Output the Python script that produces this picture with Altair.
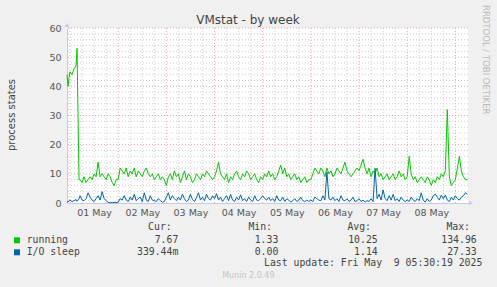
import altair as alt
import pandas as pd

# ---- data (hours relative to 01 May 00:00) ----
head_hours = [-1.5, -1, -0.5, 0, 1, 2, 3, 3.5, 4, 4.5]

running_head = [44, 40, 43, 45, 44, 46, 47, 53, 30, 8]
running_rest = (
    [8, 7, 9, 7, 8, 9, 8, 10, 9, 14, 9, 10, 9, 8, 10, 9, 7, 6, 8]
    + [8, 12, 11, 10, 12, 9, 11, 10, 12, 9, 11, 10, 9, 11, 12, 10, 9, 10, 8, 9, 10, 8, 9, 8]
    + [6, 9, 10, 8, 11, 9, 10, 7, 9, 11, 8, 10, 9, 7, 8, 10, 9, 8, 10, 9, 11, 10, 9, 8]
    + [9, 11, 14, 10, 9, 8, 10, 7, 9, 8, 10, 11, 9, 8, 10, 9, 11, 10, 8, 9, 10, 8, 7, 9]
    + [8, 10, 9, 11, 9, 10, 8, 9, 11, 13, 10, 12, 9, 10, 8, 9, 10, 8, 9, 7, 8, 9, 7, 8]
    + [8, 10, 12, 11, 10, 12, 11, 9, 12, 10, 11, 9, 10, 12, 11, 10, 12, 14, 11, 10, 9, 10, 11, 12]
    + [11, 13, 15, 12, 10, 12, 9, 11, 10, 12, 9, 10, 8, 9, 10, 8, 9, 10, 8, 9, 11, 9, 10, 8]
    + [9, 16, 10, 8, 9, 7, 8, 9, 8, 7, 9, 8, 6, 8, 7, 9, 8, 10, 9, 11, 32, 9, 6, 7]
    + [8, 12, 16, 11, 9, 8, 8]
)

iosleep_head = [0.5, 0.3, 0.8, 1.0, 0.5, 0.8, 1.2, 0.6, 1.0, 1.5]
iosleep_rest = (
    [2.5, 1.0, 0.8, 1.5, 3.5, 2.0, 1.0, 0.5, 1.5, 2.5, 1.0, 3.9, 1.5, 0.8, 0.2, 0.1, 0.1, 0.2, 0.1]
    + [0.3, 1.5, 1.0, 2.5, 1.0, 0.5, 2.0, 1.0, 3.0, 0.8, 1.5, 2.0, 0.5, 3.5, 1.0, 0.5, 2.5, 1.0, 0.8, 0.5, 1.5, 0.8, 0.3, 0.5]
    + [2.0, 3.5, 1.0, 2.5, 1.5, 0.8, 2.0, 1.0, 3.0, 1.5, 0.5, 1.0, 3.0, 1.2, 0.5, 1.8, 3.5, 1.0, 2.0, 0.8, 3.0, 1.5, 1.0, 2.5]
    + [1.5, 3.2, 1.0, 2.0, 0.5, 1.5, 2.5, 0.8, 3.0, 1.0, 0.5, 2.0, 1.0, 2.8, 0.8, 1.5, 0.5, 2.0, 1.0, 0.5, 2.5, 1.0, 0.8, 1.5]
    + [2.5, 1.5, 1.0, 2.0, 0.8, 1.5, 0.5, 2.5, 1.0, 0.8, 2.0, 0.5, 1.5, 1.0, 0.3, 0.8, 1.5, 0.5, 1.0, 2.0, 0.8, 0.5, 1.0, 0.5]
    + [1.0, 0.5, 2.0, 1.5, 1.0, 0.8, 2.5, 1.0, 10.7, 1.5, 1.0, 2.0, 0.8, 1.5, 0.5, 2.5, 1.0, 0.8, 1.5, 0.5, 1.0, 2.0, 0.5, 0.8]
    + [1.5, 0.5, 1.0, 0.3, 0.8, 0.5, 1.5, 0.5, 11.9, 1.5, 3.0, 1.0, 4.5, 1.5, 0.8, 2.5, 1.0, 3.0, 0.8, 1.5, 0.5, 2.0, 1.0, 0.5]
    + [1.0, 0.5, 2.0, 1.0, 0.5, 1.5, 0.8, 3.5, 1.0, 0.3, 1.5, 0.5, 1.0, 2.5, 3.0, 2.0, 1.0, 2.7, 1.5, 2.7, 1.0, 0.5, 2.0, 1.0]
    + [2.5, 1.5, 1.0, 2.0, 2.5, 3.5, 3.0]
)

day_labels = ["01 May", "02 May", "03 May", "04 May", "05 May", "06 May", "07 May", "08 May"]
label_hours = [12, 36, 60, 84, 108, 132, 156, 180]
major_x = [0, 24, 48, 72, 96, 120, 144, 168, 192]
minor_x = [h for h in range(6, 198, 6) if h % 24 != 0]
major_y = [10, 20, 30, 40, 50, 60]
minor_y = [v for v in range(2, 60, 2) if v % 10 != 0]

series_names = ["running", "I/O sleep"]
series_colors = ["#00CC00", "#0066B3"]
cur_vals = ["7.67", "339.44m"]
min_vals = ["1.33", "0.00"]
avg_vals = ["10.25", "1.14"]
max_vals = ["134.96", "27.33"]

# ---- build table ----
def hours_for(rest):
    return head_hours + [5 + i for i in range(len(rest))]

df = pd.concat([
    pd.DataFrame({"h": hours_for(running_rest), "v": running_head + running_rest, "s": "running"}),
    pd.DataFrame({"h": hours_for(iosleep_rest), "v": iosleep_head + iosleep_rest, "s": "I/O sleep"}),
])

W, H = 401, 175
XDOM = [-1.5, 198.3]
LAB = "'" + "','".join(day_labels) + "'"

x_axis = alt.Axis(values=label_hours, labelExpr=f"[{LAB}][floor(datum.value/24)]",
                  grid=False, ticks=False, domainColor="#C4C8F2", labelFont="DejaVu Sans",
                  labelFontSize=9.5, labelColor="#555555", labelPadding=4, labelBaseline="top")
y_axis = alt.Axis(values=[0, 10, 20, 30, 40, 50, 60], grid=False, ticks=False, domainColor="#C4C8F2",
                  labelFont="DejaVu Sans", labelFontSize=9.5, labelColor="#555555", labelPadding=6,
                  labelBaseline="middle")
xs = alt.Scale(domain=XDOM, nice=False, zero=False)
ys = alt.Scale(domain=[0, 60], nice=False)

def vrules(vals, color, dash):
    return alt.Chart(pd.DataFrame({"gx": vals})).mark_rule(color=color, strokeDash=dash, strokeWidth=1).encode(
        x=alt.X("gx:Q", scale=xs, axis=x_axis, title=None))

def hrules(vals, color, dash):
    return alt.Chart(pd.DataFrame({"gy": vals})).mark_rule(color=color, strokeDash=dash, strokeWidth=1).encode(
        y=alt.Y("gy:Q", scale=ys, axis=y_axis, title=None))

lines = alt.Chart(df).mark_line(strokeWidth=1, interpolate="linear").encode(
    x=alt.X("h:Q", scale=xs, axis=x_axis, title=None),
    y=alt.Y("v:Q", scale=ys, axis=y_axis, title=None),
    color=alt.Color("s:N", scale=alt.Scale(domain=series_names, range=series_colors), legend=None),
    order=alt.Order("h:Q"),
    detail="s:N",
)

def txt(s, x, y, align="left", font="DejaVu Sans Mono", size=9.8, color="#444444", angle=0, baseline="middle"):
    return alt.Chart(pd.DataFrame({"t": [s]})).mark_text(
        align=align, baseline=baseline, font=font, fontSize=size, color=color, angle=angle
    ).encode(text="t:N", x=alt.value(x), y=alt.value(y))

layers = [
    vrules(minor_x, "#D0D0D0", [1, 2]),
    hrules(minor_y, "#D0D0D0", [1, 2]),
    vrules(major_x, "#EBA8A8", [1, 2]),
    hrules(major_y, "#EBA8A8", [1, 2]),
    lines,
    txt("VMstat - by week", 181, -4.5, align="center", font="DejaVu Sans", size=12, color="#444444",
        baseline="alphabetic"),
    txt("process states", -55, 87, align="center", font="DejaVu Sans", size=10, color="#444444", angle=270),
    txt("RRDTOOL / TOBI OETIKER", 419, -23, align="left", font="DejaVu Sans", size=8.5, color="#BBBBBB",
        angle=90),
    txt("Cur:", 104.7, 199.3, align="right"),
    txt("Min:", 205, 199.3, align="right"),
    txt("Avg:", 304, 199.3, align="right"),
    txt("Max:", 403, 199.3, align="right"),
    txt("Last update: Fri May\u00a0 9 05:30:19 2025", 415.3, 235.3, align="right"),
    txt("Munin 2.0.49", 181.3, 248, align="center", font="DejaVu Sans", size=8, color="#C4C4C4"),
]

row_y = [212.3, 224.3]
for i, name in enumerate(series_names):
    y = row_y[i]
    layers.append(alt.Chart(pd.DataFrame({"t": [name]})).mark_square(size=36, color=series_colors[i], opacity=1)
                  .encode(x=alt.value(-50), y=alt.value(y)))
    layers.append(txt(name, -40.3, y))
    layers.append(txt(cur_vals[i], 111.3, y, align="right"))
    layers.append(txt(min_vals[i], 211.3, y, align="right"))
    layers.append(txt(avg_vals[i], 310.7, y, align="right"))
    layers.append(txt(max_vals[i], 409.7, y, align="right"))

arrows = [
    alt.Chart(pd.DataFrame({"t": ["y"]})).mark_point(shape="triangle-up", filled=True, size=22, color="#C4C8F2", opacity=1)
    .encode(x=alt.value(0), y=alt.value(-3)),
    alt.Chart(pd.DataFrame({"t": ["x"]})).mark_point(shape="triangle-right", filled=True, size=22, color="#C4C8F2", opacity=1)
    .encode(x=alt.value(404), y=alt.value(175)),
]
layers += arrows

chart = alt.layer(*layers).properties(
    width=W, height=H,
    autosize=alt.AutoSizeParams(type="none"),
    padding={"left": 67, "top": 28, "right": 29, "bottom": 84},
    background="#F0F0F0",
).configure_view(fill="white", stroke=None)

chart.save("out.html", embed_options={"renderer": "svg", "actions": False})
